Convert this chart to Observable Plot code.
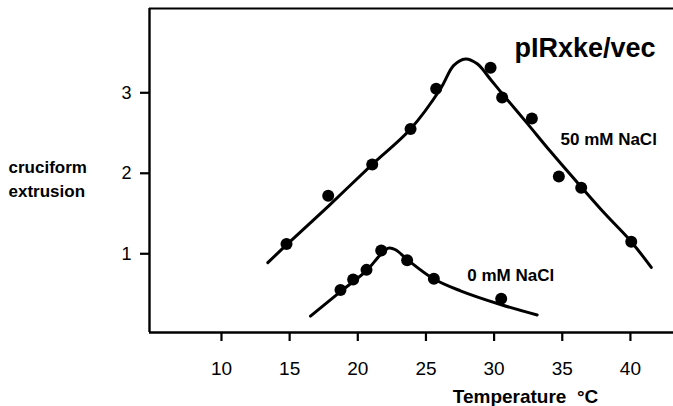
<!DOCTYPE html>
<html><head><meta charset="utf-8">
<script src="https://cdn.jsdelivr.net/npm/d3@7"></script>
<script src="https://cdn.jsdelivr.net/npm/@observablehq/plot@0.6"></script>
<style>body{margin:0;background:#fff} svg{display:block}</style>
</head><body><div id="chart"></div>
<script>
// Measured points, 50 mM NaCl
const temps50 = [14.77, 17.83, 21.06, 23.87, 25.75, 29.74, 30.59, 32.77, 34.75, 36.39, 40.06];
const ext50   = [1.12, 1.72, 2.11, 2.55, 3.05, 3.31, 2.94, 2.68, 1.96, 1.82, 1.15];
// Measured points, 0 mM NaCl
const temps0 = [18.73, 19.66, 20.64, 21.72, 23.62, 25.58, 30.52];
const ext0   = [0.55, 0.68, 0.80, 1.04, 0.92, 0.69, 0.44];
// Fitted curves
const fit50T = [13.40, 14.77, 17.83, 21.06, 23.87, 26.07, 27.04, 27.90, 28.76, 29.74, 30.59, 32.43, 34.14, 36.34, 38.17, 40.06, 41.53];
const fit50Y = [0.89, 1.11, 1.59, 2.11, 2.55, 3.05, 3.34, 3.42, 3.36, 3.165, 2.99, 2.62, 2.27, 1.84, 1.49, 1.15, 0.83];
const fit0T = [16.53, 18.73, 20.64, 21.67, 22.25, 22.77, 23.62, 25.55, 27.53, 30.47, 33.16];
const fit0Y = [0.225, 0.53, 0.79, 0.99, 1.07, 1.05, 0.93, 0.69, 0.54, 0.37, 0.24];
// Ticks and text
const xTicks = [10, 15, 20, 25, 30, 35, 40];
const yTicks = [1, 2, 3];
const xDomain = [4.72, 43.16];
const yDomain = [0.022, 4.047];
const seriesNames = ["50 mM NaCl", "0 mM NaCl"];
const seriesLabelT = [34.87, 28.03];
const seriesLabelY = [2.42, 0.73];
const title = "pIRxke/vec";
const yTitle = "cruciform\nextrusion";
const xTitle = "Temperature\u00a0\u00a0°C";

const pts50 = temps50.map((t, i) => ({t, e: ext50[i]}));
const pts0 = temps0.map((t, i) => ({t, e: ext0[i]}));
const line50 = fit50T.map((t, i) => ({t, e: fit50Y[i]}));
const line0 = fit0T.map((t, i) => ({t, e: fit0Y[i]}));
const labels = seriesNames.map((text, i) => ({text, t: seriesLabelT[i], e: seriesLabelY[i]}));

const font = "'Liberation Sans', Arial, Helvetica, sans-serif";

const chart = Plot.plot({
  width: 673, height: 406,
  marginLeft: 149, marginRight: 0, marginTop: 8, marginBottom: 74,
  style: {fontFamily: font, color: "#000", background: "#fff", overflow: "visible"},
  x: {domain: xDomain},
  y: {domain: yDomain},
  marks: [
    Plot.axisX({ticks: xTicks, tickFormat: "d", tickSize: 9, tickPadding: 20, fontSize: 19, label: null, strokeWidth: 2.2}),
    Plot.axisY({ticks: yTicks, tickFormat: "d", tickSize: 9, tickPadding: 9, fontSize: 18, label: null, strokeWidth: 2.2}),
    Plot.ruleX([xDomain[0]], {strokeWidth: 2.4}),
    Plot.ruleY([yDomain[0]], {strokeWidth: 2.4}),
    Plot.ruleY([yDomain[1]], {strokeWidth: 2}),
    Plot.line(line50, {x: "t", y: "e", curve: "catmull-rom", strokeWidth: 3}),
    Plot.line(line0, {x: "t", y: "e", curve: "catmull-rom", strokeWidth: 3}),
    Plot.dot(pts50, {x: "t", y: "e", r: 6, fill: "#000"}),
    Plot.dot(pts0, {x: "t", y: "e", r: 6, fill: "#000"}),
    Plot.text(labels, {x: "t", y: "e", text: "text", textAnchor: "start", fontSize: 17, fontWeight: "bold", fill: "#000"}),
    Plot.text([title], {frameAnchor: "top-right", dx: -18, dy: 40, textAnchor: "end", lineAnchor: "middle", fontSize: 27, fontWeight: "bold", fill: "#000"}),
    Plot.text([yTitle], {frameAnchor: "left", dx: -141, dy: 6.5, textAnchor: "start", lineAnchor: "middle", lineHeight: 1.4, fontSize: 17, fontWeight: "bold", fill: "#000"}),
    Plot.text([xTitle], {frameAnchor: "bottom", dx: 114, dy: 64, textAnchor: "middle", lineAnchor: "middle", fontSize: 19, fontWeight: "bold", fill: "#000"})
  ]
});
document.getElementById("chart").append(chart);
</script>
</body></html>
